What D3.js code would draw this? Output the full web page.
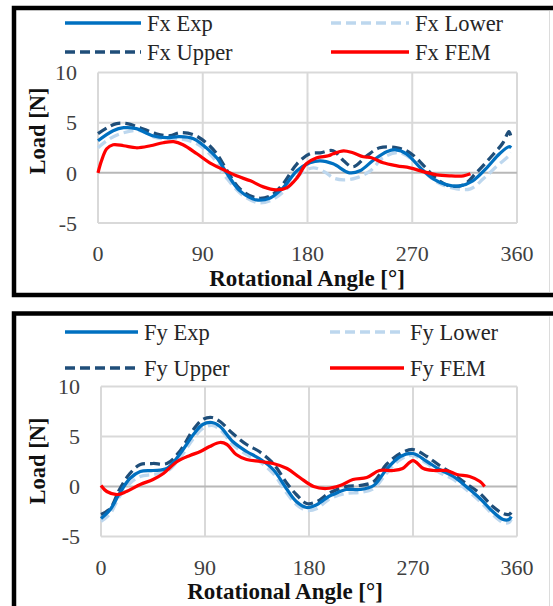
<!DOCTYPE html>
<html>
<head>
<meta charset="utf-8">
<script src="https://cdn.jsdelivr.net/npm/d3@7"></script>
<style>
  html, body { margin: 0; padding: 0; background: #fff; }
  svg { display: block; }
  text { font-family: "Liberation Serif", "DejaVu Serif", serif; }
</style>
</head>
<body>
<svg id="chart" width="553" height="606"></svg>
<script>
// tick labels
const angleTicks = [0, 90, 180, 270, 360];
const loadTicks = [-5, 0, 5, 10];

// Fx panel, [angle, load]
const fxExp = [[0,3.2],[13,4.2],[22,4.5],[33,4.4],[47,3.7],[59,3.5],[70,3.6],[82,3.4],[93,2.5],[102,1.5],[111,-0.1],[122,-1.8],[136,-2.7],[148,-2.5],[159,-1.5],[171,0.2],[182,1.0],[191,1.2],[202,0.9],[216,0.0],[225,0.2],[236,1.2],[248,2.1],[256,2.3],[265,1.9],[277,0.5],[288,-0.6],[300,-1.2],[311,-1.3],[322,-0.8],[334,0.5],[345,1.9],[353,2.6],[355,2.5]];
const fxLower = [[0,2.5],[10,3.4],[22,4.0],[36,4.2],[50,3.5],[70,3.4],[85,2.9],[99,1.5],[111,-0.6],[125,-2.3],[139,-3.0],[151,-2.6],[162,-1.6],[174,-0.1],[185,0.5],[196,0.0],[202,-0.5],[211,-0.7],[222,-0.5],[234,0.2],[245,1.5],[259,2.0],[271,1.2],[282,-0.1],[294,-1.1],[308,-1.6],[320,-1.6],[331,-0.6],[343,0.7],[353,1.7],[355,2.0]];
const fxUpper = [[0,3.9],[8,4.5],[16,4.9],[25,4.9],[36,4.5],[50,3.9],[62,3.7],[70,4.0],[82,3.8],[93,3.0],[102,1.9],[111,0.2],[122,-1.6],[136,-2.5],[148,-2.3],[159,-1.1],[171,0.9],[182,1.9],[191,2.0],[202,2.2],[211,1.2],[219,0.6],[231,1.7],[242,2.5],[257,2.5],[268,2.0],[280,0.7],[291,-0.6],[302,-1.3],[314,-1.2],[325,0.0],[337,1.5],[348,3.0],[353,4.1],[355,3.5]];
const fxFem = [[0,0.0],[3,1.2],[7.5,2.4],[13,2.8],[22,2.7],[33,2.5],[45,2.7],[56,3.0],[65,3.1],[73,2.8],[85,1.9],[96,1.0],[108,0.3],[119,-0.3],[131,-0.8],[142,-1.4],[153,-1.7],[162,-1.5],[171,-0.5],[179,0.9],[188,1.5],[198,1.7],[202,1.9],[211,2.2],[219,2.0],[228,1.6],[235,1.5],[245,1.0],[257,0.7],[268,0.5],[280,0.1],[291,-0.2],[302,-0.3],[314,-0.3],[320,-0.1]];

// Fy panel, [angle, load]
const fyExp = [[0,-3.2],[8,-2.3],[16,-0.7],[25,0.8],[34,1.5],[45,1.6],[57,1.8],[68,3.2],[80,5.2],[88,6.2],[96,6.4],[103,6.0],[114,4.5],[126,3.5],[137,2.8],[149,1.7],[161,-0.3],[169,-1.5],[178,-2.1],[187,-1.8],[197,-1.0],[201,-0.8],[212,-0.3],[224,-0.3],[236,0.1],[247,1.7],[259,3.0],[270,3.3],[282,2.5],[293,1.7],[305,1.0],[316,0.0],[328,-1.2],[339,-2.5],[348,-3.3],[353,-3.3],[355,-3.0]];
const fyLower = [[0,-3.5],[8,-2.7],[16,-1.0],[25,0.3],[34,1.0],[45,1.2],[57,1.5],[68,2.8],[80,4.8],[88,5.8],[96,6.1],[103,5.7],[114,4.2],[126,3.2],[137,2.5],[149,1.3],[161,-0.7],[169,-1.8],[178,-2.4],[187,-2.2],[197,-1.3],[212,-0.7],[224,-0.6],[236,-0.2],[247,1.3],[259,2.7],[270,3.1],[282,2.3],[293,1.4],[305,0.7],[316,-0.3],[328,-1.5],[339,-2.8],[348,-3.6],[353,-3.6],[355,-3.3]];
const fyUpper = [[0,-2.8],[8,-2.2],[16,-0.3],[25,1.3],[34,2.2],[45,2.3],[57,2.3],[68,3.5],[80,5.7],[88,6.7],[96,6.9],[103,6.5],[114,5.3],[126,4.2],[137,3.5],[149,2.3],[161,0.3],[169,-0.8],[178,-1.7],[187,-1.5],[197,-0.7],[212,0.0],[224,0.1],[236,0.5],[247,2.2],[259,3.3],[270,3.7],[282,3.0],[293,2.1],[305,1.2],[316,0.3],[328,-0.7],[339,-2.0],[348,-2.7],[353,-2.8],[355,-2.6]];
const fyFem = [[0,0.1],[5,-0.5],[14,-0.8],[22,-0.5],[34,0.2],[45,0.7],[54,1.3],[66,2.5],[77,3.1],[86,3.5],[94,4.0],[103,4.4],[109,4.2],[117,3.2],[126,2.7],[138,2.5],[149,2.3],[161,1.8],[172,0.9],[184,0.0],[195,-0.2],[207,0.1],[218,0.7],[230,0.9],[241,1.6],[253,1.6],[261,1.8],[270,2.6],[279,1.8],[288,1.6],[299,1.6],[308,1.2],[319,1.0],[328,0.5],[332,0.0]];

const styles = {
  exp:   { color: "#0070c0", dash: null },
  lower: { color: "#bdd7ee", dash: "10,5" },
  upper: { color: "#1f4e79", dash: "10,5" },
  fem:   { color: "#ff0000", dash: null }
};

const svg = d3.select("#chart");

function drawPanel(p) {
  const g = svg.append("g");

  // panel frame (right edge runs off the picture)
  g.append("rect")
    .attr("x", 14).attr("y", p.top)
    .attr("width", 560).attr("height", p.bottom - p.top)
    .attr("fill", "#fff").attr("stroke", "#000").attr("stroke-width", 4.5);
  g.append("line")
    .attr("x1", 549.5).attr("x2", 549.5)
    .attr("y1", p.top + 3).attr("y2", Math.min(p.bottom - 3, 606))
    .attr("stroke", "#dcdcdc").attr("stroke-width", 1);

  const x = d3.scaleLinear().domain([0, 360]).range([p.x0, p.x1]);
  const y = d3.scaleLinear().domain([-5, 10]).range([p.yMin, p.yMax]);

  // grid
  g.selectAll(".vgrid").data(angleTicks).join("line")
    .attr("x1", d => x(d)).attr("x2", d => x(d))
    .attr("y1", y(10)).attr("y2", y(-5))
    .attr("stroke", "#d9d9d9").attr("stroke-width", 2);
  g.selectAll(".hgrid").data(loadTicks).join("line")
    .attr("x1", x(0)).attr("x2", x(360))
    .attr("y1", d => y(d)).attr("y2", d => y(d))
    .attr("stroke", d => d === 0 ? "#b8b8b8" : "#d9d9d9")
    .attr("stroke-width", 2);

  // tick labels
  g.selectAll(".ylab").data(loadTicks).join("text")
    .attr("x", p.x0 - 21).attr("y", d => y(d)).attr("dy", "0.35em")
    .attr("text-anchor", "end").attr("font-size", 22).attr("fill", "#404040")
    .text(d => d);
  g.selectAll(".xlab").data(angleTicks).join("text")
    .attr("x", d => x(d)).attr("y", p.xLabY).attr("dy", "0.35em")
    .attr("text-anchor", "middle").attr("font-size", 22).attr("fill", "#404040")
    .text(d => d);

  // titles
  g.append("text")
    .attr("x", p.titleX).attr("y", p.titleY).attr("dy", "0.35em")
    .attr("text-anchor", "middle").attr("font-size", 23).attr("font-weight", "bold")
    .attr("fill", "#111")
    .text("Rotational Angle [°]");
  g.append("text")
    .attr("transform", `translate(37,${p.yTitleY}) rotate(-90)`)
    .attr("dy", "0.35em")
    .attr("text-anchor", "middle").attr("font-size", 22.5).attr("font-weight", "bold")
    .attr("fill", "#111")
    .text("Load [N]");

  // series
  const line = d3.line()
    .x(d => x(d[0])).y(d => y(d[1]))
    .curve(d3.curveCatmullRom.alpha(0.5));

  p.series.forEach(s => {
    const st = styles[s.kind];
    g.append("path")
      .datum(s.data)
      .attr("d", line)
      .attr("fill", "none")
      .attr("stroke", st.color)
      .attr("stroke-width", 3.25)
      .attr("stroke-dasharray", st.dash);
  });

  // legend
  const leg = g.append("g");
  p.legend.forEach(l => {
    const st = styles[l.kind];
    leg.append("line")
      .attr("x1", l.x1).attr("x2", l.x2).attr("y1", l.y).attr("y2", l.y)
      .attr("stroke", st.color).attr("stroke-width", 3.5)
      .attr("stroke-dasharray", st.dash);
    leg.append("text")
      .attr("x", l.x2 + 6).attr("y", l.y).attr("dy", "0.35em")
      .attr("font-size", 22.5).attr("fill", "#262626")
      .text(l.label);
  });
}

drawPanel({
  top: 8, bottom: 295,
  x0: 98, x1: 517, yMin: 223, yMax: 72.5,
  xLabY: 253, titleX: 307, titleY: 278, yTitleY: 131,
  series: [
    { kind: "lower", data: fxLower },
    { kind: "upper", data: fxUpper },
    { kind: "exp", data: fxExp },
    { kind: "fem", data: fxFem }
  ],
  legend: [
    { kind: "exp", label: "Fx Exp", x1: 65, x2: 141, y: 23 },
    { kind: "upper", label: "Fx Upper", x1: 65, x2: 141, y: 52 },
    { kind: "lower", label: "Fx Lower", x1: 331, x2: 409, y: 23 },
    { kind: "fem", label: "Fx FEM", x1: 331, x2: 409, y: 52 }
  ]
});

drawPanel({
  top: 313.5, bottom: 640,
  x0: 101, x1: 517, yMin: 536.5, yMax: 386.5,
  xLabY: 567, titleX: 285, titleY: 591, yTitleY: 461,
  series: [
    { kind: "lower", data: fyLower },
    { kind: "upper", data: fyUpper },
    { kind: "exp", data: fyExp },
    { kind: "fem", data: fyFem }
  ],
  legend: [
    { kind: "exp", label: "Fy Exp", x1: 65, x2: 138, y: 332 },
    { kind: "upper", label: "Fy Upper", x1: 65, x2: 138, y: 368 },
    { kind: "lower", label: "Fy Lower", x1: 330, x2: 404, y: 332 },
    { kind: "fem", label: "Fy FEM", x1: 330, x2: 404, y: 368 }
  ]
});
</script>
</body>
</html>
